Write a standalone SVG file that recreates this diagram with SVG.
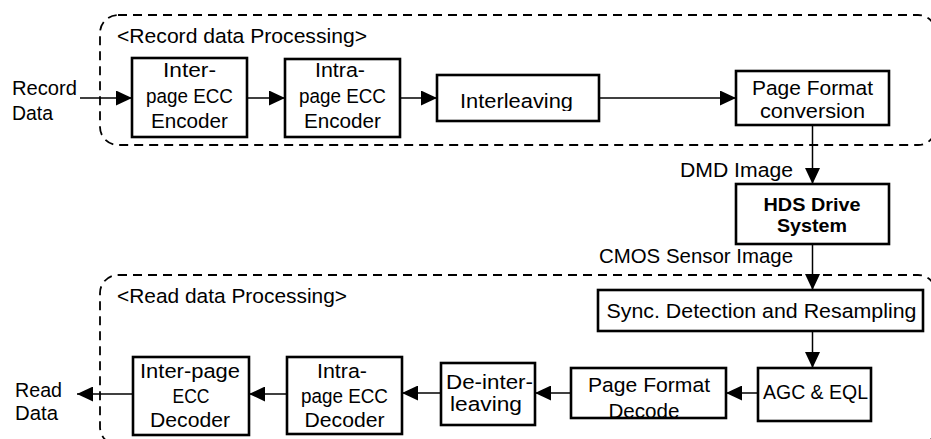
<svg xmlns="http://www.w3.org/2000/svg" width="931" height="439" viewBox="0 0 931 439">
<style>
text{font-family:"Liberation Sans",Arial,sans-serif;font-size:20.5px;fill:#000}
.m{text-anchor:middle}
.e{text-anchor:end}
.b{font-weight:bold;font-size:18.5px}
.box{fill:#fff;stroke:#000;stroke-width:2.6}
.grp{fill:none;stroke:#000;stroke-width:1.8;stroke-dasharray:9 6}
.c{fill:none;stroke:#000;stroke-width:1.5;marker-end:url(#ah)}
</style>
<defs>
<marker id="ah" viewBox="0 0 16 15" refX="16" refY="7.5" markerWidth="16" markerHeight="15" markerUnits="userSpaceOnUse" orient="auto">
<path d="M0,0 L16,7.5 L0,15 Z" fill="#000"/>
</marker>
<clipPath id="clipIL"><rect x="437" y="75" width="162" height="36"/></clipPath>
<clipPath id="clipPFD"><rect x="571" y="368" width="155" height="49"/></clipPath>
</defs>

<g id="record-group">
<rect class="grp" x="100" y="15" width="836" height="130" rx="18"/>
<text x="117" y="43" textLength="250" lengthAdjust="spacingAndGlyphs">&lt;Record data Processing&gt;</text>
</g>
<g id="read-group">
<rect class="grp" x="100" y="275" width="836" height="170" rx="18"/>
<text x="117" y="303" textLength="230" lengthAdjust="spacingAndGlyphs">&lt;Read data Processing&gt;</text>
</g>

<g id="connectors">
<line class="c" x1="80" y1="98" x2="132" y2="98"/>
<line class="c" x1="247" y1="98" x2="285" y2="98"/>
<line class="c" x1="400" y1="98" x2="437" y2="98"/>
<line class="c" x1="599" y1="98" x2="736" y2="98"/>
<line class="c" x1="812.5" y1="125" x2="812.5" y2="184"/>
<line class="c" x1="812.5" y1="244" x2="812.5" y2="290"/>
<line class="c" x1="812.5" y1="331" x2="812.5" y2="368"/>
<line class="c" x1="758" y1="393" x2="726" y2="393"/>
<line class="c" x1="571" y1="393" x2="535" y2="393"/>
<line class="c" x1="441" y1="393" x2="402" y2="393"/>
<line class="c" x1="287" y1="394" x2="249" y2="394"/>
<line class="c" x1="133" y1="394" x2="77" y2="394"/>
</g>

<g id="record-data">
<text x="12" y="95" textLength="65" lengthAdjust="spacingAndGlyphs">Record</text>
<text x="12" y="120" textLength="41" lengthAdjust="spacingAndGlyphs">Data</text>
</g>
<g id="read-data">
<text x="15" y="397" textLength="47" lengthAdjust="spacingAndGlyphs">Read</text>
<text x="15" y="420" textLength="43" lengthAdjust="spacingAndGlyphs">Data</text>
</g>

<g id="inter-page-ecc-encoder">
<rect class="box" x="132" y="58" width="115" height="79"/>
<text class="m" x="189.5" y="77" textLength="53" lengthAdjust="spacingAndGlyphs">Inter-</text>
<text class="m" x="189.5" y="103" textLength="87" lengthAdjust="spacingAndGlyphs">page ECC</text>
<text class="m" x="189.5" y="128" textLength="77" lengthAdjust="spacingAndGlyphs">Encoder</text>
</g>
<g id="intra-page-ecc-encoder">
<rect class="box" x="285" y="59" width="115" height="78"/>
<text class="m" x="340" y="77" textLength="50" lengthAdjust="spacingAndGlyphs">Intra-</text>
<text class="m" x="342.5" y="103" textLength="87" lengthAdjust="spacingAndGlyphs">page ECC</text>
<text class="m" x="342.5" y="128" textLength="77" lengthAdjust="spacingAndGlyphs">Encoder</text>
</g>
<g id="interleaving">
<rect class="box" x="437" y="75" width="162" height="46"/>
<text class="m" x="516.5" y="108" textLength="113" lengthAdjust="spacingAndGlyphs" clip-path="url(#clipIL)">Interleaving</text>
</g>
<g id="page-format-conversion">
<rect class="box" x="736" y="71" width="153" height="54"/>
<text class="m" x="812.5" y="95" textLength="121" lengthAdjust="spacingAndGlyphs">Page Format</text>
<text class="m" x="812.5" y="118" textLength="105" lengthAdjust="spacingAndGlyphs">conversion</text>
</g>
<g id="dmd-image-label">
<text class="e" x="793" y="177" textLength="113" lengthAdjust="spacingAndGlyphs">DMD Image</text>
</g>
<g id="hds-drive-system">
<rect class="box" x="736" y="184" width="153" height="60"/>
<text class="m b" x="812" y="210.5" textLength="97" lengthAdjust="spacingAndGlyphs">HDS Drive</text>
<text class="m b" x="812" y="232" textLength="70" lengthAdjust="spacingAndGlyphs">System</text>
</g>
<g id="cmos-label">
<text class="e" x="793" y="263" textLength="194" lengthAdjust="spacingAndGlyphs">CMOS Sensor Image</text>
</g>
<g id="sync-detection">
<rect class="box" x="598" y="290" width="325" height="41"/>
<text class="m" x="761.5" y="318" textLength="310" lengthAdjust="spacingAndGlyphs">Sync. Detection and Resampling</text>
</g>
<g id="agc-eql">
<rect class="box" x="758" y="368" width="113" height="53"/>
<text class="m" x="815.5" y="399" textLength="105" lengthAdjust="spacingAndGlyphs">AGC &amp; EQL</text>
</g>
<g id="page-format-decode">
<rect class="box" x="571" y="368" width="155" height="50"/>
<text class="m" x="649" y="392" textLength="122" lengthAdjust="spacingAndGlyphs">Page Format</text>
<text class="m" x="644" y="418" textLength="71" lengthAdjust="spacingAndGlyphs" clip-path="url(#clipPFD)">Decode</text>
</g>
<g id="de-interleaving">
<rect class="box" x="441" y="363" width="94" height="62"/>
<text class="m" x="489.5" y="389" textLength="87" lengthAdjust="spacingAndGlyphs">De-inter-</text>
<text class="m" x="486" y="411" textLength="72" lengthAdjust="spacingAndGlyphs">leaving</text>
</g>
<g id="intra-page-ecc-decoder">
<rect class="box" x="287" y="357" width="115" height="77"/>
<text class="m" x="342" y="378" textLength="50" lengthAdjust="spacingAndGlyphs">Intra-</text>
<text class="m" x="344.5" y="403" textLength="87" lengthAdjust="spacingAndGlyphs">page ECC</text>
<text class="m" x="344.5" y="427" textLength="80" lengthAdjust="spacingAndGlyphs">Decoder</text>
</g>
<g id="inter-page-ecc-decoder">
<rect class="box" x="133" y="357" width="116" height="78"/>
<text class="m" x="190" y="378" textLength="100" lengthAdjust="spacingAndGlyphs">Inter-page</text>
<text class="m" x="191" y="403" textLength="37" lengthAdjust="spacingAndGlyphs">ECC</text>
<text class="m" x="190" y="427" textLength="80" lengthAdjust="spacingAndGlyphs">Decoder</text>
</g>
</svg>
